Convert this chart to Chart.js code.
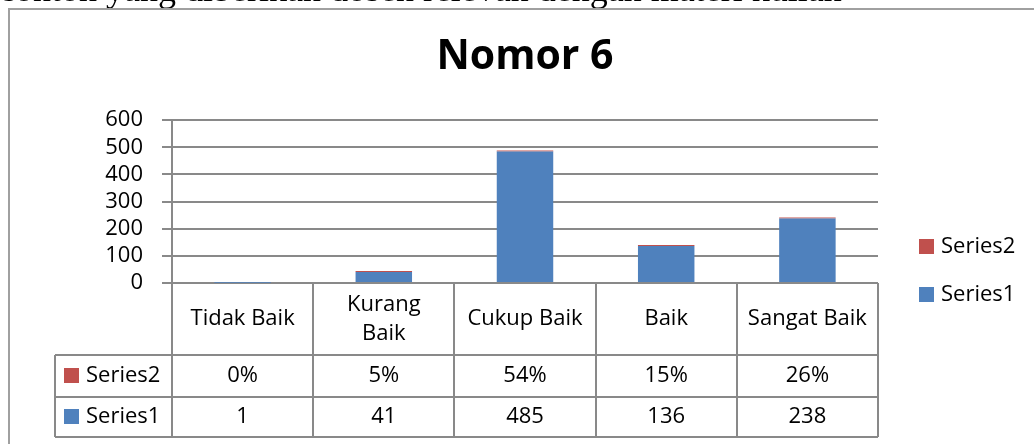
<!DOCTYPE html>
<html>
<head>
<meta charset="utf-8">
<title>Nomor 6</title>
<script src="https://cdn.jsdelivr.net/npm/chart.js@4/dist/chart.umd.min.js"></script>
<style>
  html, body { margin: 0; padding: 0; background: #fff; overflow: hidden; }
  #wrap { position: relative; width: 1034px; height: 444px; }
</style>
</head>
<body>
<div id="wrap"><canvas id="chart" width="1034" height="444"></canvas></div>
<script>
// Chart data
const categories = ['Tidak Baik', ['Kurang', 'Baik'], 'Cukup Baik', 'Baik', 'Sangat Baik'];
const series1 = [1, 41, 485, 136, 238];
const series2 = [0, 0.05, 0.54, 0.15, 0.26];
const yTicks = [0, 100, 200, 300, 400, 500, 600];
const seriesNames = ['Series1', 'Series2'];
const topLine = 'contoh yang diberikan dosen relevan dengan materi kuliah';

const BLUE = '#4f81bd';
const RED = '#c0504d';
const LINE = '#898989';
const FONT = "'Open Sans', 'Noto Sans', sans-serif";

// Page text above the chart and the chart frame
const framePlugin = {
  id: 'frame',
  beforeDraw(chart) {
    const ctx = chart.ctx;
    ctx.save();
    ctx.fillStyle = '#fff';
    ctx.fillRect(0, 0, chart.width, chart.height);
    ctx.fillStyle = '#000';
    ctx.font = "36px 'Liberation Serif', 'DejaVu Serif', serif";
    ctx.textBaseline = 'alphabetic';
    ctx.textAlign = 'left';
    ctx.fillText(topLine, -1, 1);
    ctx.strokeStyle = '#a0a0a0';
    ctx.lineWidth = 2;
    ctx.strokeRect(9, 9, chart.width + 20, chart.height + 20);
    ctx.restore();
  }
};

// Data table under the plot, and legend on the right
const tablePlugin = {
  id: 'dataTable',
  afterDraw(chart) {
    const { ctx, chartArea: area, scales: { x } } = chart;
    const n = categories.length;
    const cw = (x.right - x.left) / n;
    const top = area.bottom;
    const r1 = top + 72, r2 = r1 + 42, r3 = r2 + 40;
    const keyLeft = 55;

    ctx.save();
    ctx.strokeStyle = LINE;
    ctx.lineWidth = 2;
    ctx.beginPath();
    for (let i = 0; i <= n; i++) {
      const px = Math.round(x.left + i * cw);
      ctx.moveTo(px, top);
      ctx.lineTo(px, r3);
    }
    [r1, r2, r3].forEach(y => {
      ctx.moveTo(keyLeft, y);
      ctx.lineTo(x.right, y);
    });
    ctx.moveTo(keyLeft, r1);
    ctx.lineTo(keyLeft, r3);
    ctx.stroke();

    ctx.fillStyle = '#000';
    ctx.font = '22px ' + FONT;
    ctx.textAlign = 'center';
    ctx.textBaseline = 'middle';
    categories.forEach((c, i) => {
      const cx = x.getPixelForValue(i);
      const lines = Array.isArray(c) ? c : [c];
      const mid = (top + r1) / 2;
      lines.forEach((t, j) => {
        ctx.fillText(t, cx, mid + (j - (lines.length - 1) / 2) * 29);
      });
    });

    const rows = [
      { name: seriesNames[1], color: RED, vals: series2.map(v => Math.round(v * 100) + '%'), y0: r1, y1: r2 },
      { name: seriesNames[0], color: BLUE, vals: series1.map(v => String(v)), y0: r2, y1: r3 }
    ];
    rows.forEach(r => {
      const cy = (r.y0 + r.y1) / 2;
      ctx.textAlign = 'center';
      ctx.fillStyle = '#000';
      r.vals.forEach((v, i) => ctx.fillText(v, x.getPixelForValue(i), cy));
      ctx.fillStyle = r.color;
      ctx.fillRect(keyLeft + 9, cy - 8, 15, 15);
      ctx.fillStyle = '#000';
      ctx.textAlign = 'left';
      ctx.fillText(r.name, keyLeft + 31, cy);
    });

    // legend
    const lx = area.right + 41;
    [[seriesNames[1], RED, 247], [seriesNames[0], BLUE, 295]].forEach(([name, color, cy]) => {
      ctx.fillStyle = color;
      ctx.fillRect(lx, cy - 8, 15, 15);
      ctx.fillStyle = '#000';
      ctx.textAlign = 'left';
      ctx.fillText(name, lx + 22, cy);
    });
    ctx.restore();
  }
};

function initChart() {
  const ctx = document.getElementById('chart').getContext('2d');
  new Chart(ctx, {
    type: 'bar',
    data: {
      labels: categories,
      datasets: [
        {
          label: seriesNames[0],
          data: series1,
          backgroundColor: BLUE,
          categoryPercentage: 0.4,
          barPercentage: 1
        },
        {
          label: seriesNames[1],
          data: series2,
          backgroundColor: c => (c.raw > 0 ? RED : 'rgba(0,0,0,0)'),
          minBarLength: 1,
          categoryPercentage: 0.4,
          barPercentage: 1
        }
      ]
    },
    options: {
      responsive: false,
      animation: false,
      layout: { padding: { top: 0, right: 156, bottom: 161, left: 0 } },
      plugins: {
        legend: { display: false },
        tooltip: { enabled: false },
        title: {
          display: true,
          fullSize: false,
          text: 'Nomor 6',
          color: '#000',
          font: { family: FONT, size: 41, weight: 'bold' },
          padding: { top: 33, bottom: 38 }
        }
      },
      scales: {
        x: {
          display: false,
          stacked: true
        },
        y: {
          stacked: true,
          min: 0,
          max: 600,
          afterBuildTicks: s => { s.ticks = yTicks.map(v => ({ value: v })); },
          afterFit: s => { s.width = 172; },
          ticks: {
            color: '#000',
            padding: 19,
            autoSkip: false,
            font: { family: FONT, size: 22 }
          },
          grid: { color: LINE, lineWidth: 2, tickLength: 10 },
          border: { color: LINE, width: 2 }
        }
      }
    },
    plugins: [framePlugin, tablePlugin]
  });
}

document.addEventListener('DOMContentLoaded', function() {
  Promise.all([
    document.fonts.load("22px 'Open Sans'"),
    document.fonts.load("bold 41px 'Open Sans'"),
    document.fonts.load("36px 'Liberation Serif'")
  ]).catch(() => {}).then(initChart);
});
</script>
</body>
</html>
